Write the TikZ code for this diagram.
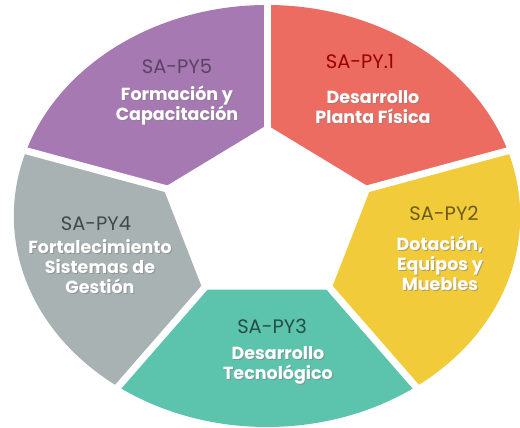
\documentclass[tikz,border=0pt]{standalone}
\usepackage{fontspec}
\setmainfont{Poppins}
\definecolor{morado}{HTML}{A679B3}
\definecolor{rojo}{HTML}{EC6C61}
\definecolor{amarillo}{HTML}{F2CB3B}
\definecolor{turquesa}{HTML}{5CC3AD}
\definecolor{gris}{HTML}{A8B2B3}
\tikzset{
  titulo/.style={font=\fontsize{19.5}{22}\selectfont, text=#1},
  cuerpo/.style={font=\bfseries\fontsize{17.5}{20}\selectfont, text=white, align=center, inner sep=0pt},
  sombra/.style={cuerpo, text=black!50, opacity=.6},
}
% sector: color, angulo inicial
\newcommand\sector[2]{\fill[#1] (#2:91) -- (#2:211) arc[start angle=#2, end angle=#2-72, radius=211] -- (#2-72:91) -- cycle;}
% texto blanco con sombra: nombre, posicion, texto
\newcommand\etiqueta[3]{\node[sombra, xshift=1pt, yshift=-1pt] (#1s) at (#2) {#3};
\node[cuerpo] (#1) at (#2) {#3};}

\begin{document}
\begin{tikzpicture}[x=1pt,y=1pt]
\useasboundingbox (0,0) rectangle (520,428);
\begin{scope}[shift={(267,212)}, xscale=1.2]
\sector{rojo}{90}
\sector{amarillo}{18}
\sector{turquesa}{-54}
\sector{gris}{-126}
\sector{morado}{162}
\foreach \a in {90,18,-54,-126,162}
  \draw[white, line width=7pt] (\a:80) -- (\a:225);
\end{scope}
\node[titulo=morado!55!black] (t5) at (177,361) {SA-PY5};
\etiqueta{c5}{177,322}{Formación y\\Capacitación}
\node[titulo=red!60!black] (t1) at (360,366) {SA-PY.1};
\etiqueta{c1}{373,321}{Desarrollo\\Planta Física}
\node[titulo=amarillo!45!black] (t2) at (444,215) {SA-PY2};
\etiqueta{c2}{440,165}{Dotación,\\Equipos y\\Muebles}
\node[titulo=turquesa!40!black] (t3) at (272,102) {SA-PY3};
\etiqueta{c3}{278,63}{Desarrollo\\Tecnológico}
\node[titulo=gris!40!black] (t4) at (96,204) {SA-PY4};
\etiqueta{c4}{100,161}{Fortalecimiento\\Sistemas de\\Gestión}
\end{tikzpicture}
\end{document}
